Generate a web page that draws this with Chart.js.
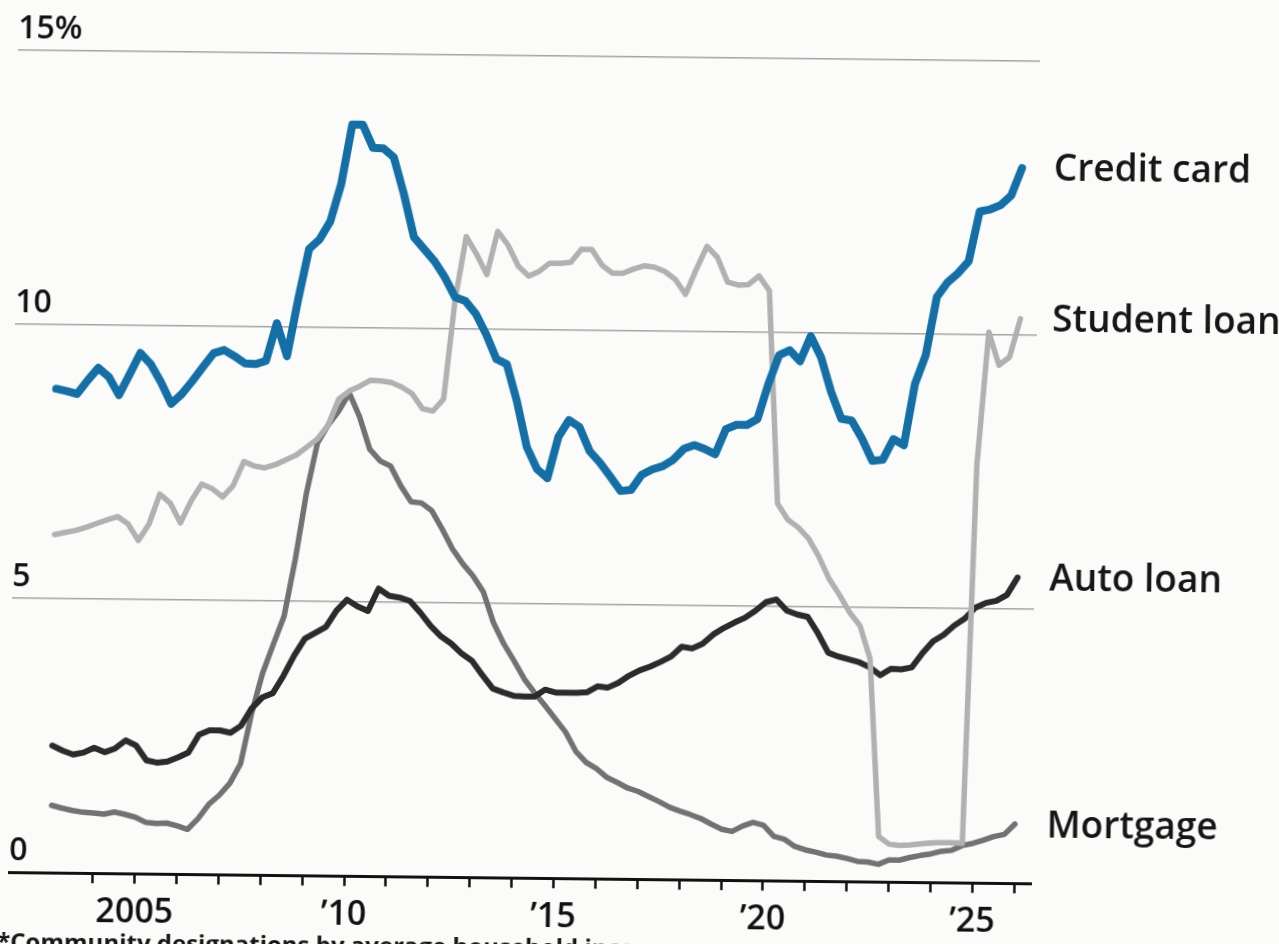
<!DOCTYPE html>
<html>
<head>
<meta charset="utf-8">
<title>Delinquency by loan type</title>
<script src="https://cdn.jsdelivr.net/npm/chart.js@4.4.1/dist/chart.umd.min.js"></script>
<style>
  html, body { margin: 0; padding: 0; background: #fbfbfa; overflow: hidden; }
  /* the printed page was scanned a little crooked, so tilt the whole chart */
  #wrap { position: relative; width: 1279px; height: 944px; transform: rotate(0.63deg); transform-origin: 0 874px; }
</style>
</head>
<body>
<div id="wrap"><canvas id="delinquencyChart"></canvas></div>
<script>
// Percent of balance 90+ days delinquent, quarterly, 2003 Q1 onward
var creditCard = [
  8.83, 8.79, 8.74, 8.99, 9.22, 9.06, 8.73, 9.11, 9.50, 9.30, 8.97, 8.58,
  8.76, 9.00, 9.26, 9.51, 9.57, 9.46, 9.33, 9.32, 9.38, 10.07, 9.47, 10.50,
  11.43, 11.61, 11.94, 12.62, 13.71, 13.71, 13.29, 13.28, 13.12, 12.45, 11.67, 11.45,
  11.23, 10.94, 10.58, 10.51, 10.28, 9.91, 9.46, 9.37, 8.70, 7.86, 7.46, 7.30,
  8.05, 8.36, 8.24, 7.80, 7.59, 7.34, 7.08, 7.10, 7.38, 7.48, 7.54, 7.66,
  7.86, 7.93, 7.86, 7.77, 8.23, 8.31, 8.31, 8.42, 9.06, 9.59, 9.68, 9.48,
  9.94, 9.56, 8.93, 8.44, 8.41, 8.08, 7.68, 7.70, 8.08, 7.97, 9.09, 9.62,
  10.68, 10.95, 11.12, 11.34, 12.25, 12.29, 12.37, 12.55, 13.05
];
var studentLoan = [
  6.17, 6.21, 6.25, 6.31, 6.38, 6.45, 6.51, 6.38, 6.08, 6.38, 6.93, 6.77,
  6.41, 6.81, 7.12, 7.04, 6.89, 7.10, 7.54, 7.46, 7.43, 7.49, 7.58, 7.67,
  7.82, 7.97, 8.22, 8.70, 8.85, 8.94, 9.05, 9.04, 9.01, 8.93, 8.81, 8.54,
  8.50, 8.72, 10.54, 11.69, 11.37, 11.00, 11.79, 11.54, 11.16, 10.98, 11.07, 11.22,
  11.22, 11.24, 11.48, 11.48, 11.19, 11.05, 11.05, 11.13, 11.19, 11.17, 11.09, 10.95,
  10.68, 11.14, 11.56, 11.36, 10.91, 10.86, 10.87, 11.03, 10.76, 6.88, 6.59, 6.45,
  6.25, 5.92, 5.52, 5.23, 4.91, 4.67, 4.07, 0.83, 0.69, 0.67, 0.68, 0.70,
  0.72, 0.73, 0.73, 0.72, 7.64, 10.05, 9.45, 9.60, 10.30
];
var autoLoan = [
  2.32, 2.23, 2.16, 2.20, 2.29, 2.21, 2.28, 2.43, 2.34, 2.07, 2.03, 2.05,
  2.13, 2.22, 2.55, 2.63, 2.63, 2.59, 2.72, 3.04, 3.24, 3.32, 3.64, 4.01,
  4.32, 4.43, 4.54, 4.84, 5.04, 4.92, 4.84, 5.25, 5.12, 5.09, 5.03, 4.82,
  4.58, 4.39, 4.26, 4.08, 3.95, 3.69, 3.45, 3.38, 3.32, 3.31, 3.31, 3.44,
  3.39, 3.39, 3.39, 3.40, 3.51, 3.49, 3.58, 3.71, 3.81, 3.88, 3.97, 4.07,
  4.25, 4.22, 4.31, 4.48, 4.60, 4.70, 4.79, 4.92, 5.08, 5.13, 4.93, 4.86,
  4.82, 4.52, 4.17, 4.10, 4.05, 4.00, 3.91, 3.77, 3.89, 3.88, 3.92, 4.18,
  4.40, 4.52, 4.69, 4.82, 5.02, 5.11, 5.15, 5.26, 5.58
];
var mortgage = [
  1.23, 1.18, 1.14, 1.11, 1.10, 1.08, 1.12, 1.08, 1.03, 0.94, 0.92, 0.93,
  0.88, 0.82, 1.02, 1.28, 1.45, 1.67, 2.03, 2.95, 3.68, 4.21, 4.73, 5.76,
  6.97, 7.89, 8.22, 8.48, 8.81, 8.38, 7.79, 7.58, 7.49, 7.13, 6.84, 6.82,
  6.68, 6.35, 5.99, 5.72, 5.50, 5.21, 4.65, 4.27, 3.96, 3.63, 3.38, 3.15,
  2.91, 2.67, 2.32, 2.12, 2.01, 1.85, 1.76, 1.66, 1.60, 1.51, 1.42, 1.32,
  1.25, 1.19, 1.12, 1.02, 0.93, 0.89, 0.99, 1.06, 1.01, 0.81, 0.76, 0.63,
  0.57, 0.53, 0.48, 0.46, 0.42, 0.37, 0.36, 0.32, 0.40, 0.40, 0.45, 0.49,
  0.52, 0.57, 0.59, 0.68, 0.72, 0.78, 0.85, 0.89, 1.08
];

var seriesNames = ['Credit card', 'Student loan', 'Auto loan', 'Mortgage'];
var yTicks = [0, 5, 10, 15];
var xLabelYears = [2005, 2010, 2015, 2020, 2025];
var xLabels = ['2005', '\u201910', '\u201915', '\u201920', '\u201925'];
var footnote = '*Community designations by average household income';

// x position of each quarter, as a decimal year
var quarterYears = [];
for (var q = 0; q < creditCard.length; q++) {
    quarterYears.push(2003 + q / 4);
}

function toPoints(values) {
    return values.map(function(v, i) {
        return { x: quarterYears[i], y: v };
    });
}

Chart.defaults.font.family = "'Open Sans', 'Noto Sans', sans-serif";
Chart.defaults.color = '#1e1e1e';

// series names drawn to the right of each line's last point
var seriesLabels = {
    id: 'seriesLabels',
    afterDatasetsDraw: function(chart) {
        var ctx = chart.ctx;
        ctx.save();
        ctx.font = "600 37px 'Open Sans'";
        ctx.fillStyle = '#161616';
        ctx.textBaseline = 'middle';
        chart.data.datasets.forEach(function(ds, i) {
            var pts = chart.getDatasetMeta(i).data;
            var last = pts[pts.length - 1];
            ctx.fillText(ds.label, chart.chartArea.right + 15, last.y + 2);
        });
        ctx.restore();
    }
};

var footnotePlugin = {
    id: 'footnote',
    afterDraw: function(chart) {
        var ctx = chart.ctx;
        ctx.save();
        ctx.font = "700 24px 'Open Sans'";
        ctx.fillStyle = '#161616';
        ctx.textBaseline = 'top';
        ctx.fillText(footnote, -2, 931);
        ctx.restore();
    }
};

var ctx = document.getElementById('delinquencyChart').getContext('2d');
var chart = new Chart(ctx, {
    type: 'line',
    data: {
        datasets: [
            { label: seriesNames[0], data: toPoints(creditCard), borderColor: '#136fa6', borderWidth: 8 },
            { label: seriesNames[1], data: toPoints(studentLoan), borderColor: '#b1b1b1', borderWidth: 5.5 },
            { label: seriesNames[2], data: toPoints(autoLoan), borderColor: '#2b2b2b', borderWidth: 6 },
            { label: seriesNames[3], data: toPoints(mortgage), borderColor: '#727272', borderWidth: 5.5 }
        ]
    },
    options: {
        responsive: true,
        maintainAspectRatio: false,
        animation: false,
        layout: { padding: { left: 9, right: 248, top: 50, bottom: 3 } },
        elements: {
            point: { radius: 0 },
            line: { tension: 0, borderCapStyle: 'round', borderJoinStyle: 'round' }
        },
        plugins: {
            legend: { display: false },
            tooltip: { enabled: false }
        },
        scales: {
            x: {
                type: 'linear',
                min: 2002,
                max: 2026.4,
                afterBuildTicks: function(axis) {
                    var ticks = [];
                    for (var yr = 2004; yr <= 2026; yr++) ticks.push({ value: yr });
                    axis.ticks = ticks;
                },
                ticks: {
                    autoSkip: false,
                    maxRotation: 0,
                    padding: 9,
                    font: { size: 34, weight: '600' },
                    color: '#111',
                    callback: function(value) {
                        var k = xLabelYears.indexOf(value);
                        return k === -1 ? '' : xLabels[k];
                    }
                },
                grid: { drawOnChartArea: false, drawTicks: true, tickLength: 10, tickWidth: 2.5, tickColor: '#111' },
                border: { color: '#111', width: 3 }
            },
            y: {
                min: 0,
                max: 15,
                afterBuildTicks: function(axis) {
                    axis.ticks = yTicks.map(function(v) { return { value: v }; });
                },
                ticks: {
                    mirror: true,
                    padding: 0,
                    labelOffset: -21,
                    font: { size: 32, weight: '600' },
                    color: '#111',
                    callback: function(value) {
                        return value === 15 ? '15%' : String(value);
                    }
                },
                grid: {
                    drawTicks: false,
                    lineWidth: 1.5,
                    color: function(c) { return c.tick && c.tick.value === 0 ? 'rgba(0,0,0,0)' : '#a3a3a3'; }
                },
                border: { display: false }
            }
        }
    },
    plugins: [seriesLabels, footnotePlugin]
});
</script>
</body>
</html>
